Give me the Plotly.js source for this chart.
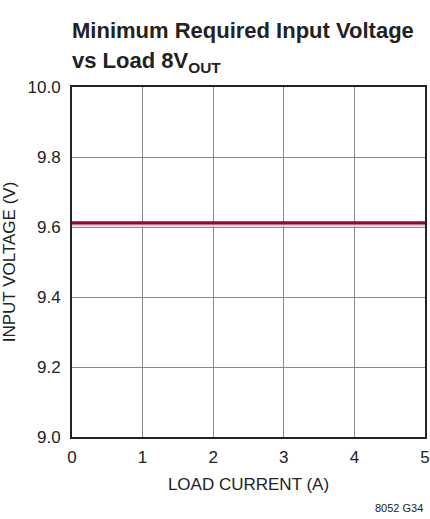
<!DOCTYPE html>
<html>
<head>
<meta charset="utf-8">
<script src="https://cdn.plot.ly/plotly-3.0.1.min.js"></script>
<style>html,body{margin:0;padding:0;background:#fff;}#chart{width:430px;height:519px;}</style>
</head>
<body>
<div id="chart"></div>
<script>
var loadCurrent = [0, 1, 2, 3, 4, 5];
var vinMin = [9.612, 9.612, 9.612, 9.612, 9.612, 9.612];
var vinShadow = [9.604, 9.604, 9.604, 9.604, 9.604, 9.604];
var xTicks = [0, 1, 2, 3, 4, 5];
var yTicks = [9.0, 9.2, 9.4, 9.6, 9.8, 10.0];
var yTickLabels = ['9.0', '9.2', '9.4', '9.6', '9.8', '10.0'];

var FONT = '"Liberation Sans Narrow", "Arial Narrow", "Liberation Sans", sans-serif';

var traces = [
  {x: loadCurrent, y: vinShadow, mode: 'lines', line: {color: '#e6c6cb', width: 2}, hoverinfo: 'skip'},
  {x: loadCurrent, y: vinMin, mode: 'lines', line: {color: '#8e0a2c', width: 3.2}}
];

var layout = {
  width: 430, height: 519,
  margin: {l: 72, r: 5, t: 87, b: 82},
  paper_bgcolor: '#fff', plot_bgcolor: '#fff',
  showlegend: false,
  font: {family: FONT, color: '#222'},
  xaxis: {
    range: [0, 5], tickvals: xTicks, ticktext: xTicks.map(String),
    showgrid: true, gridcolor: '#8a8a8a', gridwidth: 1,
    zeroline: false, showline: true, linecolor: '#222', linewidth: 2, mirror: true,
    ticks: '', tickfont: {size: 17, family: FONT, color: '#222'},
    ticklabelstandoff: 4,
    title: {text: 'LOAD CURRENT (A)', font: {size: 17, family: FONT, color: '#222'}, standoff: 12}
  },
  yaxis: {
    range: [9.0, 10.0], tickvals: yTicks, ticktext: yTickLabels,
    showgrid: true, gridcolor: '#8a8a8a', gridwidth: 1,
    zeroline: false, showline: true, linecolor: '#222', linewidth: 2, mirror: true,
    ticks: '', tickfont: {size: 17, family: FONT, color: '#222'},
    ticklabelstandoff: 6,
    title: {text: 'INPUT VOLTAGE (V)', font: {size: 17, family: FONT, color: '#222'}, standoff: 10}
  },
  annotations: [
    {text: '<b>Minimum Required Input Voltage</b>', xref: 'paper', yref: 'paper', x: 0, y: 1, xanchor: 'left', yanchor: 'middle',
     yshift: 57, xshift: -2, showarrow: false, font: {size: 22, family: FONT, color: '#222'}},
    {text: '<b>vs Load 8V<sub>OUT</sub></b>', xref: 'paper', yref: 'paper', x: 0, y: 1, xanchor: 'left', yanchor: 'middle',
     yshift: 25, xshift: -2, showarrow: false, font: {size: 22, family: FONT, color: '#222'}},
    {text: '8052 G34', xref: 'paper', yref: 'paper', x: 1, y: 0, xanchor: 'right', yanchor: 'middle',
     yshift: -71, showarrow: false, font: {size: 11, family: FONT, color: '#222'}}
  ]
};

Plotly.newPlot('chart', traces, layout, {displayModeBar: false, staticPlot: true});
</script>
</body>
</html>
